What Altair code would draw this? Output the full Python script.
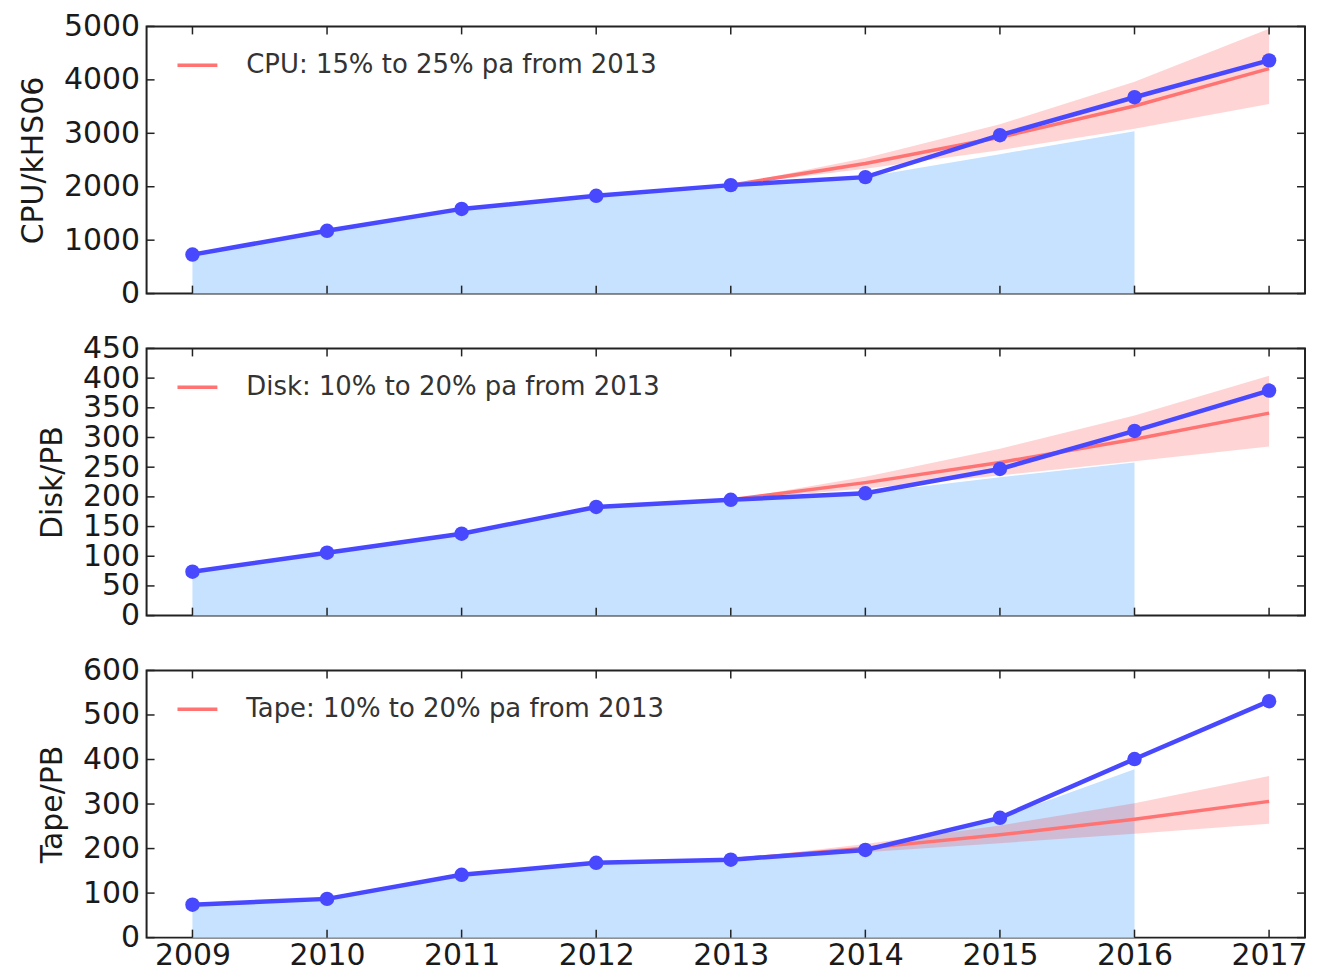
import altair as alt
import pandas as pd

years = [2009, 2010, 2011, 2012, 2013, 2014, 2015, 2016, 2017]
area_years = [2009, 2010, 2011, 2012, 2013, 2014, 2015, 2016]
proj_years = [2013, 2014, 2015, 2016, 2017]

cpu_actual = [730, 1175, 1585, 1830, 2030, 2180, 2965, 3675, 4365]
cpu_area = [730, 1175, 1585, 1830, 2030, 2180, 2610, 3040]
cpu_low = [2030, 2335, 2685, 3085, 3550]
cpu_mid = [2030, 2435, 2925, 3510, 4210]
cpu_high = [2030, 2540, 3170, 3965, 4955]

disk_actual = [74, 106, 138, 183, 195, 206, 247, 311, 379]
disk_area = [74, 106, 138, 183, 195, 206, 233, 258]
disk_low = [195, 214, 236, 260, 285]
disk_mid = [195, 224, 258, 297, 341]
disk_high = [195, 234, 281, 337, 404]

tape_actual = [74, 87, 141, 168, 175, 197, 269, 401, 531]
tape_area = [74, 87, 141, 168, 175, 197, 269, 378]
tape_low = [175, 192, 212, 233, 256]
tape_mid = [175, 201, 231, 266, 306]
tape_high = [175, 210, 252, 302, 363]

W, H = 1162, 268
FONT = "DejaVu Sans"
TXT = "#1a1a1a"
BLUE = "#4848ff"
RED = "#ff7373"
LIGHTBLUE = "#c6e2ff"


def panel(title, actual, area, low, mid, high, ymax, ystep, label, show_x):
    xs = alt.Scale(domain=[2008.659, 2017.267], nice=False, zero=False)
    ys = alt.Scale(domain=[0, ymax], nice=False, zero=True)
    yticks = list(range(0, ymax + 1, ystep))
    if show_x:
        xaxis = alt.Axis(values=years, format="d", labelFontSize=30, ticks=False,
                         domain=False, grid=False, labelPadding=3, title=None,
                         labelFlush=False, labelOverlap=False, labelColor=TXT,
                         labelFont=FONT)
    else:
        xaxis = None
    yaxis = alt.Axis(values=yticks, format="d", labelFontSize=30, ticks=False,
                     domain=False, grid=False, labelPadding=7, title=title,
                     titleFontSize=30, titleFont=FONT, titleFontWeight="normal",
                     titleColor=TXT, labelFont=FONT, labelColor=TXT,
                     labelOverlap=False, labelFlush=False, titlePadding=15)

    def X(field="year"):
        return alt.X(f"{field}:Q", scale=xs, axis=xaxis)

    def Y(field):
        return alt.Y(f"{field}:Q", scale=ys, axis=yaxis)

    d_actual = pd.DataFrame({"year": years, "v": actual})
    d_area = pd.DataFrame({"year": area_years, "v": area})
    d_proj = pd.DataFrame({"year": proj_years, "low": low, "mid": mid,
                           "high": high, "label": [label] * len(proj_years)})
    d_xt = pd.DataFrame({"year": years})
    d_yt = pd.DataFrame({"v": yticks})

    area_l = alt.Chart(d_area).mark_area(color=LIGHTBLUE, opacity=1).encode(
        x=X(), y=Y("v"))
    band = alt.Chart(d_proj).mark_area(color="#ff0000", opacity=0.17).encode(
        x=X(), y=Y("low"), y2="high:Q")
    red = alt.Chart(d_proj).mark_line(strokeWidth=3.5).encode(
        x=X(), y=Y("mid"),
        color=alt.Color("label:N", scale=alt.Scale(range=[RED]),
                        legend=alt.Legend(title=None, orient="none", legendX=29,
                                          legendY=17, labelFontSize=26,
                                          symbolSize=1600, symbolStrokeWidth=3.5,
                                          labelOffset=27, labelColor="#333333",
                                          labelFont=FONT, symbolType="stroke",
                                          labelLimit=1000)))
    line = alt.Chart(d_actual).mark_line(color=BLUE, strokeWidth=4.5).encode(
        x=X(), y=Y("v"))
    pts = alt.Chart(d_actual).mark_circle(color=BLUE, size=210, opacity=1).encode(
        x=X(), y=Y("v"))

    tick_style = dict(color="#222222", strokeWidth=1.5)
    xt_bot = alt.Chart(d_xt).mark_rule(**tick_style).encode(
        x=X(), y=alt.value(H), y2=alt.value(H - 8))
    xt_top = alt.Chart(d_xt).mark_rule(**tick_style).encode(
        x=X(), y=alt.value(0), y2=alt.value(8))
    yt_l = alt.Chart(d_yt).mark_rule(**tick_style).encode(
        y=Y("v"), x=alt.value(0), x2=alt.value(8))
    yt_r = alt.Chart(d_yt).mark_rule(**tick_style).encode(
        y=Y("v"), x=alt.value(W - 8), x2=alt.value(W))

    return alt.layer(area_l, band, red, line, pts, xt_bot, xt_top, yt_l, yt_r).properties(
        width=W, height=H)


p1 = panel("CPU/kHS06", cpu_actual, cpu_area, cpu_low, cpu_mid, cpu_high,
           5000, 1000, "CPU: 15% to 25% pa from 2013", False)
p2 = panel("Disk/PB", disk_actual, disk_area, disk_low, disk_mid, disk_high,
           450, 50, "Disk: 10% to 20% pa from 2013", False)
p3 = panel("Tape/PB", tape_actual, tape_area, tape_low, tape_mid, tape_high,
           600, 100, "Tape: 10% to 20% pa from 2013", True)

chart = alt.vconcat(p1, p2, p3, spacing=23).resolve_scale(
    color="independent", y="independent"
).configure_view(stroke="#222222", strokeWidth=2).properties(
    background="white", padding={"top": 1, "left": 9, "right": 0, "bottom": 0})

chart.save("out.html", embed_options={"renderer": "svg", "actions": False})
